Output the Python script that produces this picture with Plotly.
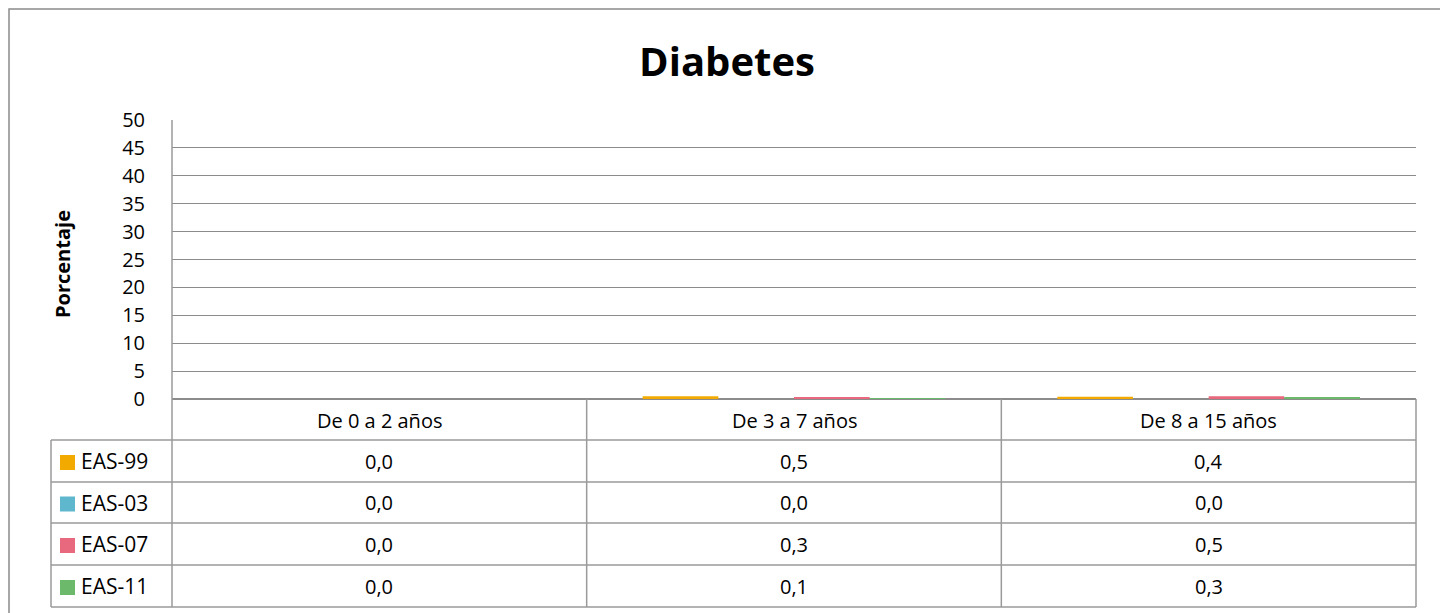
import plotly.graph_objects as go

categories = ["De 0 a 2 años", "De 3 a 7 años", "De 8 a 15 años"]
series_names = ["EAS-99", "EAS-03", "EAS-07", "EAS-11"]
eas99 = [0.0, 0.5, 0.4]
eas03 = [0.0, 0.0, 0.0]
eas07 = [0.0, 0.3, 0.5]
eas11 = [0.0, 0.1, 0.3]
colors = ["#F2AA00", "#5FB7CE", "#E8697D", "#6CB96C"]
y_ticks = list(range(0, 55, 5))

series_values = [eas99, eas03, eas07, eas11]

# page has 8px body margin; figure occupies page px 8..1448 x 8..613
OFF = 8
W, H = 1440, 605
L, R, T, B = 172 - OFF, 1416 - OFF, 120 - OFF, 399 - OFF
FONT = "'Open Sans', sans-serif"
GRID = "#8c8c8c"
LINE = "#9a9a9a"


def px(xp):
    return (xp - OFF - L) / (R - L)


def py(yp):
    return (B - (yp - OFF)) / (B - T)


fig = go.Figure()
for name, vals, col in zip(series_names, series_values, colors):
    fig.add_trace(go.Bar(x=categories, y=vals, name=name, marker=dict(color=col, line=dict(width=0)),
                         showlegend=False))

shapes = []
annotations = []

# outer chart border
shapes.append(dict(type="rect", xref="paper", yref="paper", x0=px(9), x1=px(1445), y0=py(640), y1=py(9),
                   line=dict(color="#8a8a8a", width=1.5), layer="below"))

row_tops = [399, 440, 482, 523, 565, 607]
shapes.append(dict(type="line", xref="paper", yref="paper", x0=px(172), x1=px(1416), y0=py(440), y1=py(440),
                   line=dict(color=LINE, width=1.5)))
for yl in row_tops[2:]:
    shapes.append(dict(type="line", xref="paper", yref="paper", x0=px(51), x1=px(1416), y0=py(yl), y1=py(yl),
                       line=dict(color=LINE, width=1.5)))
shapes.append(dict(type="line", xref="paper", yref="paper", x0=px(51), x1=px(172), y0=py(440), y1=py(440),
                   line=dict(color=LINE, width=1.5)))
shapes.append(dict(type="line", xref="paper", yref="paper", x0=px(51), x1=px(51), y0=py(440), y1=py(607),
                   line=dict(color=LINE, width=1.5)))
shapes.append(dict(type="line", xref="paper", yref="paper", x0=px(172), x1=px(172), y0=py(120), y1=py(607),
                   line=dict(color=LINE, width=1.5)))
shapes.append(dict(type="line", xref="paper", yref="paper", x0=px(1416), x1=px(1416), y0=py(399), y1=py(607),
                   line=dict(color=LINE, width=1.5)))
for xb in [0.5, 1.5]:
    shapes.append(dict(type="line", xref="x", yref="paper", x0=xb, x1=xb, y0=py(399), y1=py(607),
                       line=dict(color=LINE, width=1.5)))

for i, cat in enumerate(categories):
    annotations.append(dict(x=i, xref="x", y=py(420), yref="paper", text=cat, showarrow=False,
                            font=dict(size=20, color="#000", family=FONT), xanchor="center", yanchor="middle"))

for r, (name, vals, col) in enumerate(zip(series_names, series_values, colors)):
    ytop, ybot = row_tops[r + 1], row_tops[r + 2]
    yc = (ytop + ybot) / 2
    shapes.append(dict(type="rect", xref="paper", yref="paper", x0=px(60), x1=px(75), y0=py(yc - 6 + 15),
                       y1=py(yc - 6), fillcolor=col, line=dict(width=0)))
    annotations.append(dict(x=px(79), xref="paper", y=py(yc), yref="paper", text=name, showarrow=False,
                            font=dict(size=21, color="#000", family=FONT), xanchor="left", yanchor="middle"))
    for i, v in enumerate(vals):
        annotations.append(dict(x=i, xref="x", y=py(yc), yref="paper", text=f"{v:.1f}".replace(".", ","),
                                showarrow=False, font=dict(size=20, color="#000", family=FONT),
                                xanchor="center", yanchor="middle"))

annotations.append(dict(x=px(62), xref="paper", y=py(264), yref="paper", text="<b>Porcentaje</b>", textangle=-90,
                        showarrow=False, font=dict(size=20, color="#000", family=FONT),
                        xanchor="center", yanchor="middle"))

fig.update_layout(
    width=W, height=H,
    margin=dict(l=L, r=W - R, t=T, b=H - B),
    paper_bgcolor="white", plot_bgcolor="white",
    barmode="group", bargap=0.27, bargroupgap=0,
    title=dict(text="<b>Diabetes</b>", x=(727 - OFF) / W, xref="container", xanchor="center",
               y=1 - (62 - OFF) / H, yref="container", yanchor="middle",
               font=dict(size=40, color="#000", family=FONT)),
    xaxis=dict(showticklabels=False, showgrid=False, showline=False, zeroline=False, ticks="",
               range=[-0.5, 2.5]),
    yaxis=dict(range=[0, 50], tickvals=y_ticks, showgrid=True, gridcolor=GRID, gridwidth=1,
               zeroline=True, zerolinecolor=GRID, zerolinewidth=2, showline=False, ticks="",
               ticklabelstandoff=26, tickfont=dict(size=20, color="#000", family=FONT)),
    shapes=shapes, annotations=annotations,
    font=dict(family=FONT),
)

fig.write_html("out.html")
